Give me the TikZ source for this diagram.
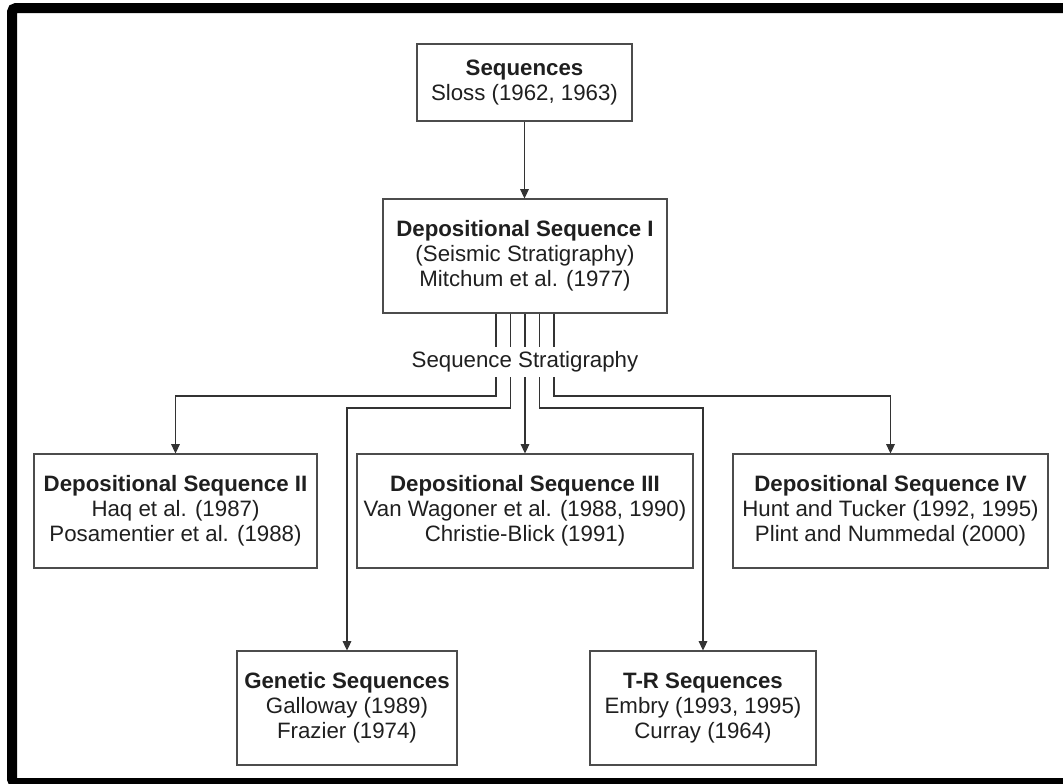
\documentclass[tikz,border=0pt]{standalone}
\usepackage{fontspec}
\setmainfont{Liberation Sans}
\usetikzlibrary{arrows.meta,positioning}

\begin{document}
\begin{tikzpicture}[x=0.75pt, y=-0.75pt, font=\fontsize{16.7}{18.8}\selectfont]
  \useasboundingbox (0,0) rectangle (1063,783);
  \clip (0,0) rectangle (1063,783);
  \tikzset{seqbox/.style={draw=black!70, line width=0.8pt, align=center, text=black!88, inner sep=2pt, minimum height=85.5pt},
    link/.style={black!80, line width=0.85pt, -{Triangle[length=7pt,width=6.5pt]}}}
  % ---- frame ----
  \draw[line width=7.5pt, rounded corners=3pt] (12,8) rectangle (1100,783);
  % ---- boxes ----
  \node[seqbox, minimum width=161.25pt, minimum height=57.75pt] (seq) at (524.5,82.5) {\textbf{Sequences}\\Sloss (1962, 1963)};
  \node[seqbox, minimum width=213pt] (ds1) at (525,256) {\textbf{Depositional Sequence I}\\(Seismic Stratigraphy)\\Mitchum et al. (1977)};
  \node[seqbox, minimum width=212.25pt] (ds2) at (175.5,511) {\textbf{Depositional Sequence II}\\Haq et al. (1987)\\Posamentier et al. (1988)};
  \node[seqbox, minimum width=252pt] (ds3) at (525,511) {\textbf{Depositional Sequence III}\\Van Wagoner et al. (1988, 1990)\\Christie-Blick (1991)};
  \node[seqbox, minimum width=236.25pt] (ds4) at (890.5,511) {\textbf{Depositional Sequence IV}\\Hunt and Tucker (1992, 1995)\\Plint and Nummedal (2000)};
  \node[seqbox, minimum width=165pt] (gen) at (347,708) {\textbf{Genetic Sequences}\\Galloway (1989)\\Frazier (1974)};
  \node[seqbox, minimum width=169.5pt] (tr) at (703,708) {\textbf{T-R Sequences}\\Embry (1993, 1995)\\Curray (1964)};
  % ---- connectors ----
  \draw[link] (seq.south) -- (seq.south |- ds1.north);
  \draw[link] (ds1.south) -- (ds3.north);
  \foreach \dx/\lev/\dest in {-2/396/ds2, -1/408/gen, 1/408/tr, 2/396/ds4} {
    \coordinate (tap) at ([xshift=\dx*10.875pt]ds1.south);
    \draw[link] (tap) -- (tap |- 0,\lev) -| (\dest.north);
  }
  \node[fill=white, inner xsep=2pt, inner ysep=3.4pt, text=black!88] (strat) at (525,362) {Sequence Stratigraphy};
\end{tikzpicture}
\end{document}
